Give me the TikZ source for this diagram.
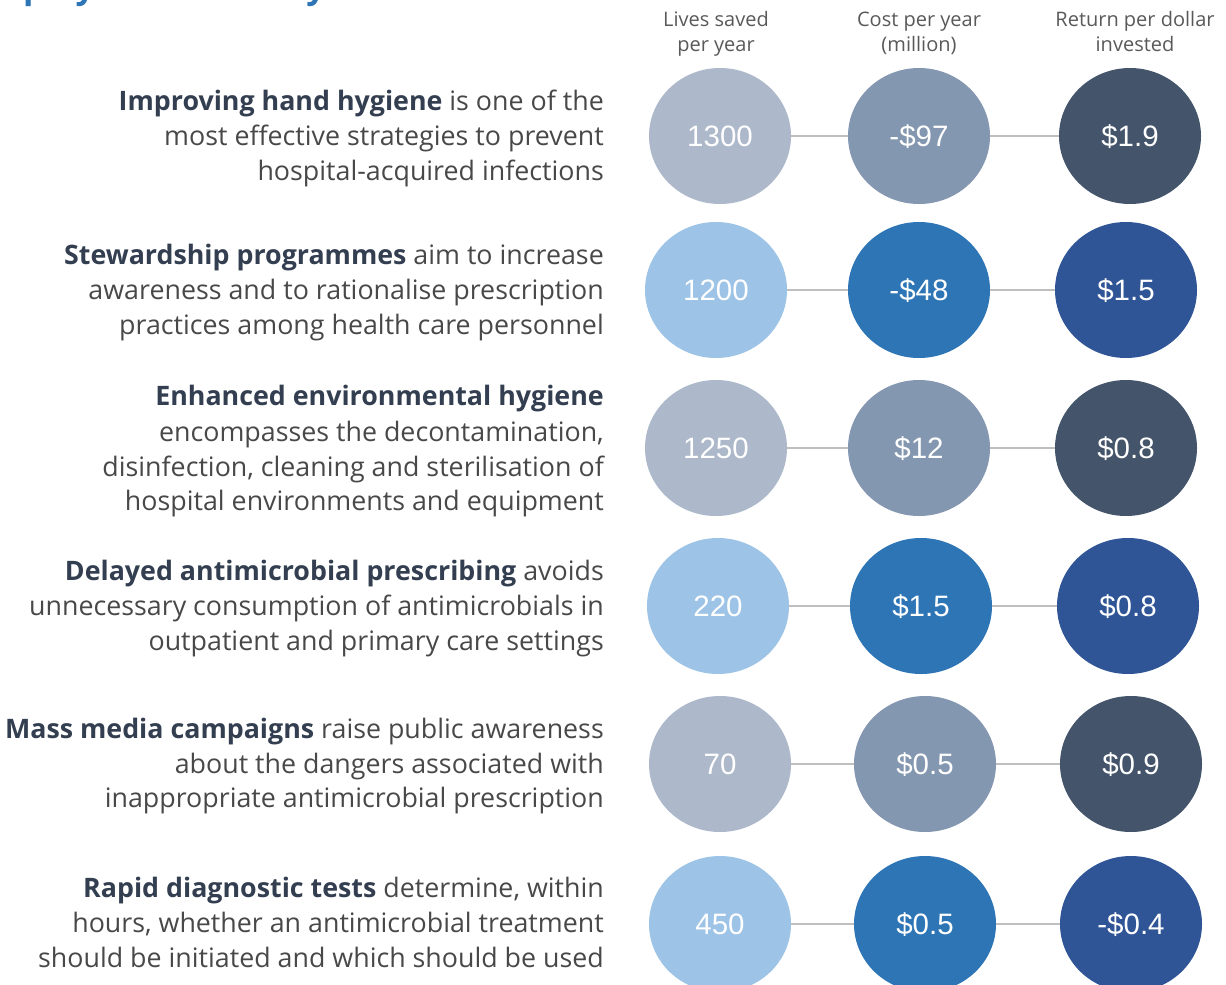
\documentclass[tikz,border=0pt]{standalone}
\usepackage{fontspec}
\setmainfont{Open Sans}
\newfontfamily\numfont{Liberation Sans}
\usetikzlibrary{shapes.geometric}
\definecolor{gA}{HTML}{ADB9CA}
\definecolor{gB}{HTML}{8497B0}
\definecolor{gC}{HTML}{44546A}
\definecolor{bA}{HTML}{9DC3E6}
\definecolor{bB}{HTML}{2E75B6}
\definecolor{bC}{HTML}{2F5597}
\definecolor{boldc}{HTML}{333F50}
\definecolor{bodyc}{HTML}{484848}
\definecolor{hdrc}{HTML}{595959}
\definecolor{linec}{HTML}{BFBFBF}
\definecolor{titlec}{HTML}{2E75B6}
\begin{document}
\begin{tikzpicture}[x=1pt,y=-1pt,
  txt/.style={anchor=base east, inner sep=0pt, font=\fontsize{26.8}{30}\selectfont, text=bodyc},
  hdr/.style={anchor=base, inner sep=0pt, font=\fontsize{20}{24}\selectfont, text=hdrc},
  circ/.style={ellipse, minimum width=142pt, minimum height=136pt, inner sep=0pt,
    text=white, font=\numfont\fontsize{29.5}{32}\selectfont, text height=21pt, text depth=0pt},
  conn/.style={draw=linec, line width=2.5pt}]
\useasboundingbox (0,0) rectangle (1226,985);
\clip (0,0) rectangle (1226,985);
\newcommand\hb[1]{\textcolor{boldc}{\textbf{#1}}}
% title (cut off at top)
\node[anchor=base west, inner sep=0pt, font=\bfseries\fontsize{34}{40}\selectfont, text=titlec] (title) at (23,-1.5) {play a vital timely};
% headers
\node[hdr] (h1a) at (716,26) {Lives saved};
\node[hdr] (h1b) at (716,51) {per year};
\node[hdr] (h2a) at (919,26) {Cost per year};
\node[hdr] (h2b) at (919,51) {(million)};
\node[hdr] (h3a) at (1135,26) {Return per dollar};
\node[hdr] (h3b) at (1135,51) {invested};
% left texts
\node[txt] (t11) at (604,110) {\hb{Improving hand hygiene} is one of the};
\node[txt] (t12) at (604,145) {most effective strategies to prevent};
\node[txt] (t13) at (604,180) {hospital-acquired infections};
\node[txt] (t21) at (604,264) {\hb{Stewardship programmes} aim to increase};
\node[txt] (t22) at (604,299) {awareness and to rationalise prescription};
\node[txt] (t23) at (604,334) {practices among health care personnel};
\node[txt] (t31) at (604,405) {\hb{Enhanced environmental hygiene}};
\node[txt] (t32) at (604,441) {encompasses the decontamination,};
\node[txt] (t33) at (604,476) {disinfection, cleaning and sterilisation of};
\node[txt] (t34) at (604,510) {hospital environments and equipment};
\node[txt] (t41) at (604,580) {\hb{Delayed antimicrobial prescribing} avoids};
\node[txt] (t42) at (604,615) {unnecessary consumption of antimicrobials in};
\node[txt] (t43) at (604,650) {outpatient and primary care settings};
\node[txt] (t51) at (604,738) {\hb{Mass media campaigns} raise public awareness};
\node[txt] (t52) at (604,773) {about the dangers associated with};
\node[txt] (t53) at (604,807) {inappropriate antimicrobial prescription};
\node[txt] (t61) at (604,897) {\hb{Rapid diagnostic tests} determine, within};
\node[txt] (t62) at (604,932) {hours, whether an antimicrobial treatment};
\node[txt] (t63) at (604,967) {should be initiated and which should be used};
% circles
\node[circ, fill=gA] (a1) at (720,136) {1300};
\node[circ, fill=gB] (b1) at (919,136) {-\$97};
\node[circ, fill=gC] (c1) at (1130,136) {\$1.9};
\node[circ, fill=bA] (a2) at (716,290) {1200};
\node[circ, fill=bB] (b2) at (919,290) {-\$48};
\node[circ, fill=bC] (c2) at (1126,290) {\$1.5};
\node[circ, fill=gA] (a3) at (716,448) {1250};
\node[circ, fill=gB] (b3) at (919,448) {\$12};
\node[circ, fill=gC] (c3) at (1126,448) {\$0.8};
\node[circ, fill=bA] (a4) at (718,606) {220};
\node[circ, fill=bB] (b4) at (921,606) {\$1.5};
\node[circ, fill=bC] (c4) at (1128,606) {\$0.8};
\node[circ, fill=gA] (a5) at (720,764) {70};
\node[circ, fill=gB] (b5) at (925,764) {\$0.5};
\node[circ, fill=gC] (c5) at (1131,764) {\$0.9};
\node[circ, fill=bA] (a6) at (720,924) {450};
\node[circ, fill=bB] (b6) at (925,924) {\$0.5};
\node[circ, fill=bC] (c6) at (1131,924) {-\$0.4};
% connectors
\foreach \r in {1,...,6}{
  \draw[conn] (a\r) -- (b\r);
  \draw[conn] (b\r) -- (c\r);
}
\end{tikzpicture}
\end{document}
